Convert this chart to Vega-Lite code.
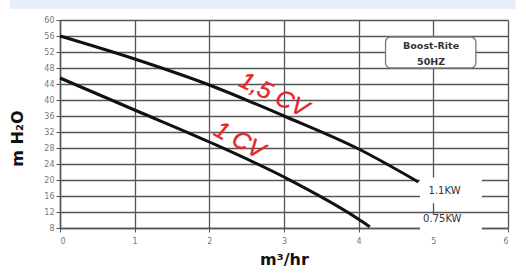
{
  "$schema": "https://vega.github.io/schema/vega-lite/v6.json",
  "width": 448,
  "height": 208,
  "autosize": "none",
  "padding": {"left": 60, "top": 20, "right": 18, "bottom": 52},
  "background": "white",
  "config": {
    "view": {"stroke": null},
    "font": "DejaVu Sans"
  },
  "datasets": {
    "curves": [
      {"motor": "1.1KW", "x": 0, "y": 56},
      {"motor": "1.1KW", "x": 1, "y": 50.25},
      {"motor": "1.1KW", "x": 2, "y": 43.75},
      {"motor": "1.1KW", "x": 3, "y": 36},
      {"motor": "1.1KW", "x": 4, "y": 27.75},
      {"motor": "1.1KW", "x": 4.8, "y": 19.5},
      {"motor": "0.75KW", "x": 0, "y": 45.5},
      {"motor": "0.75KW", "x": 1, "y": 37.5},
      {"motor": "0.75KW", "x": 2, "y": 29.5},
      {"motor": "0.75KW", "x": 3, "y": 20.75},
      {"motor": "0.75KW", "x": 4, "y": 10.2},
      {"motor": "0.75KW", "x": 4.15, "y": 8.3}
    ],
    "band": [{"x": -0.67, "x2": 6.1, "y": 62.75, "y2": 65.2}],
    "kwbox": [
      {"x": 4.82, "x2": 5.65, "y": 14.2, "y2": 20.6},
      {"x": 4.82, "x2": 5.65, "y": 6.3, "y2": 11.4}
    ],
    "kwtext": [
      {"label": "1.1KW", "x": 5.15, "y": 17.3},
      {"label": "0.75KW", "x": 5.12, "y": 10.2}
    ],
    "brand": [{"x": 4.36, "x2": 5.57, "y": 48, "y2": 55.75}],
    "brandText": [
      {"t": "Boost-Rite", "x": 4.97, "y": 53.4},
      {"t": "50HZ", "x": 4.97, "y": 49.5}
    ],
    "cv": [
      {"t": "1,5 CV", "x": 2.86, "y": 41.2, "a": 26},
      {"t": "1 CV", "x": 2.4, "y": 29.8, "a": 28}
    ]
  },
  "encoding": {
    "x": {
      "field": "x", "type": "quantitative",
      "scale": {"domain": [0, 6], "nice": false, "zero": false},
      "axis": {
        "title": "m³/hr", "titleFont": "DejaVu Sans", "titleFontSize": 16, "titleFontWeight": "bold", "titleColor": "#111",
        "titlePadding": 6,
        "values": [0, 1, 2, 3, 4, 5, 6], "format": "d",
        "labelFontSize": 8, "labelColor": "#777", "labelPadding": 5, "labelOverlap": false,
        "tickSize": 4, "tickColor": "#555", "domainColor": "#555", "domainWidth": 1.5,
        "grid": true, "gridColor": "#555", "gridWidth": 1.3
      }
    },
    "y": {
      "field": "y", "type": "quantitative",
      "scale": {"domain": [8, 60], "nice": false, "zero": false},
      "axis": {
        "title": "m H₂O", "titleFont": "DejaVu Sans", "titleFontSize": 16, "titleFontWeight": "bold", "titleColor": "#111",
        "titlePadding": 18, "titleY": 118,
        "values": [8, 12, 16, 20, 24, 28, 32, 36, 40, 44, 48, 52, 56, 60],
        "labelFontSize": 8, "labelColor": "#777", "labelPadding": 2, "labelOverlap": false,
        "tickSize": 4, "tickColor": "#555", "domainColor": "#555", "domainWidth": 1.5,
        "grid": true, "gridColor": "#555", "gridWidth": 1.3
      }
    }
  },
  "layer": [
    {
      "data": {"name": "curves"},
      "mark": {"type": "line", "color": "#111111", "strokeWidth": 3, "interpolate": "monotone"},
      "encoding": {
        "detail": {"field": "motor"}
      }
    },
    {
      "data": {"name": "band"},
      "mark": {"type": "rect", "fill": "#e7f0fa", "clip": false},
      "encoding": {
        "x2": {"field": "x2"},
        "y2": {"field": "y2"}
      }
    },
    {
      "data": {"name": "kwbox"},
      "mark": {"type": "rect", "fill": "white", "clip": false},
      "encoding": {
        "x2": {"field": "x2"},
        "y2": {"field": "y2"}
      }
    },
    {
      "data": {"name": "kwtext"},
      "mark": {"type": "text", "fontSize": 10, "color": "#333", "font": "DejaVu Sans"},
      "encoding": {
        "text": {"field": "label"}
      }
    },
    {
      "data": {"name": "brand"},
      "mark": {"type": "rect", "fill": "white", "stroke": "#777", "strokeWidth": 1.3, "cornerRadius": 5},
      "encoding": {
        "x2": {"field": "x2"},
        "y2": {"field": "y2"}
      }
    },
    {
      "data": {"name": "brandText"},
      "mark": {"type": "text", "fontSize": 9.5, "fontWeight": "bold", "color": "#333", "font": "DejaVu Sans"},
      "encoding": {
        "text": {"field": "t"}
      }
    },
    {
      "data": {"name": "cv"},
      "mark": {"type": "text", "fontSize": 24, "fontStyle": "italic", "color": "#e5262b", "font": "Liberation Sans", "stroke": "#e5262b", "strokeWidth": 0.4},
      "encoding": {
        "text": {"field": "t"},
        "angle": {"field": "a", "type": "quantitative", "scale": null}
      }
    }
  ]
}
